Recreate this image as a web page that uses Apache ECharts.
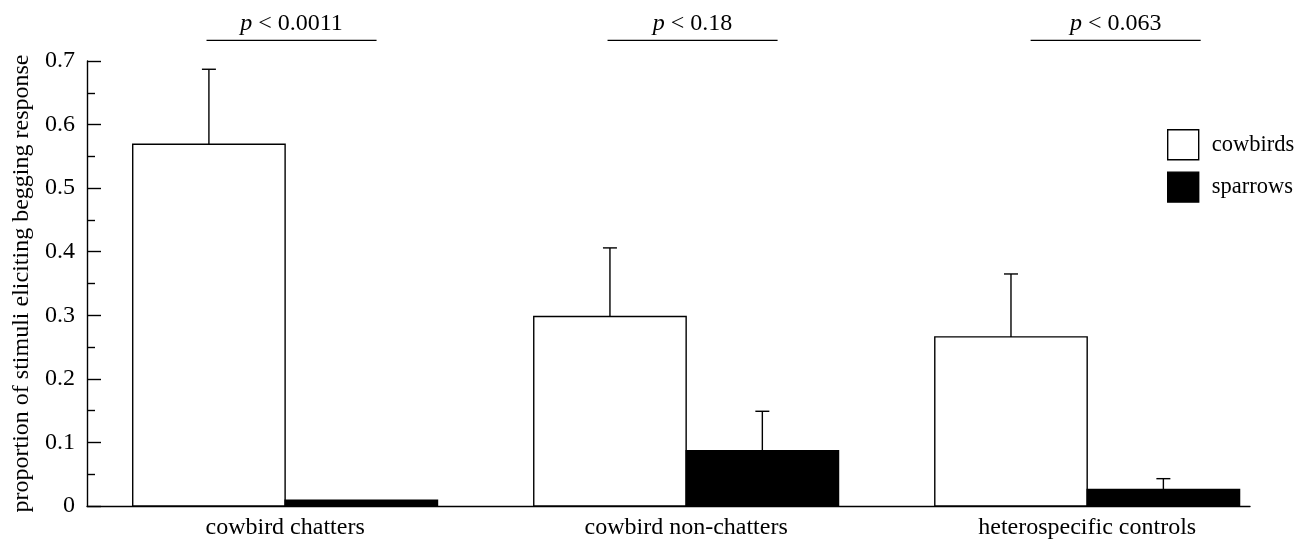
<!DOCTYPE html>
<html>
<head>
<meta charset="utf-8">
<script src="https://cdn.jsdelivr.net/npm/echarts@6/dist/echarts.min.js"></script>
<style>
html,body{margin:0;padding:0;background:#fff;}
#chart{width:1308px;height:540px;}
</style>
</head>
<body>
<div id="chart"></div>
<script>
// ---- data ----
const categories = ['cowbird chatters', 'cowbird non-chatters', 'heterospecific controls'];
const cowbirds = [0.569, 0.298, 0.266];
const cowbirdsErrTop = [0.687, 0.406, 0.365];
const sparrows = [0.009, 0.087, 0.026];
const sparrowsErrTop = [null, 0.149, 0.043];
const pLabels = ['0.0011', '0.18', '0.063'];
const pCenters = [0.51, 1.51, 2.565];
const yTicks = [0, 0.1, 0.2, 0.3, 0.4, 0.5, 0.6, 0.7];

const FONT = '"Liberation Serif", "DejaVu Serif", serif';
const HALF = 0.38;       // bar width in category units
const SIG_Y = 0.7325;    // level of significance bars
const SIG_HALF = 0.212;  // half length of significance bars

function barRender(side, tops) {
  return function (params, api) {
    const i = api.value(0);
    const v = api.value(1);
    const c = i + 0.494;
    const x0 = side < 0 ? c - HALF : c;
    const x1 = side < 0 ? c : c + HALF;
    const pTL = api.coord([x0, v]);
    const pBR = api.coord([x1, 0]);
    const style = api.style();
    const children = [{
      type: 'rect',
      shape: { x: pTL[0], y: pTL[1], width: pBR[0] - pTL[0], height: pBR[1] - pTL[1] },
      style: { fill: style.fill, stroke: '#000', lineWidth: 1.4 }
    }];
    const e = tops[i];
    if (e != null) {
      const xm = (x0 + x1) / 2;
      const a = api.coord([xm, v]);
      const b = api.coord([xm, e]);
      children.push({ type: 'line', shape: { x1: a[0], y1: a[1], x2: b[0], y2: b[1] }, style: { stroke: '#000', lineWidth: 1.4 } });
      children.push({ type: 'line', shape: { x1: b[0] - 7, y1: b[1], x2: b[0] + 7, y2: b[1] }, style: { stroke: '#000', lineWidth: 1.4 } });
    }
    return { type: 'group', children: children };
  };
}

const chart = echarts.init(document.getElementById('chart'), null, { renderer: 'canvas' });
chart.setOption({
  animation: false,
  backgroundColor: '#fff',
  textStyle: { fontFamily: FONT },
  grid: { left: 87, right: 58, top: 61, bottom: 34, containLabel: false, outerBoundsMode: 'none' },
  legend: {
    orient: 'vertical',
    left: 1167, top: 129, padding: 0,
    itemWidth: 31, itemHeight: 30, itemGap: 11,
    textStyle: { fontFamily: FONT, fontSize: 22.5, color: '#000', padding: [0, 0, 0, 8] },
    data: [
      { name: 'cowbirds', icon: 'rect', itemStyle: { color: '#fff', borderColor: '#000', borderWidth: 1.4 } },
      { name: 'sparrows', icon: 'rect', itemStyle: { color: '#000', borderColor: '#000', borderWidth: 1.4 } }
    ]
  },
  xAxis: {
    type: 'value', min: 0, max: 2.9,
    splitLine: { show: false },
    axisTick: { show: false },
    axisLine: { show: true, lineStyle: { color: '#000', width: 1.4 } },
    axisLabel: {
      customValues: [0.494, 1.494, 2.494],
      formatter: function (v) { return categories[Math.round(v - 0.494)] || ''; },
      fontFamily: FONT, fontSize: 24, color: '#000', margin: 10
    }
  },
  yAxis: {
    type: 'value', min: 0, max: 0.7, interval: 0.1,
    name: 'proportion of stimuli eliciting begging response',
    nameLocation: 'middle', nameGap: 50,
    nameTextStyle: { fontFamily: FONT, fontSize: 24, color: '#000' },
    splitLine: { show: false },
    axisLine: { show: true, lineStyle: { color: '#000', width: 1.4 } },
    axisTick: { show: true, inside: true, length: 14, lineStyle: { color: '#000', width: 1.4 } },
    minorTick: { show: true, splitNumber: 2, length: 8, lineStyle: { color: '#000', width: 1.4 } },
    axisLabel: {
      fontFamily: FONT, fontSize: 24, color: '#000', margin: 12,
      formatter: function (v) { return String(+v.toFixed(1)); }
    }
  },
  series: [
    {
      name: 'cowbirds', type: 'custom',
      itemStyle: { color: '#fff', borderColor: '#000' },
      renderItem: barRender(-1, cowbirdsErrTop),
      data: cowbirds.map((v, i) => [i, v]),
      encode: { x: 0, y: 1 }
    },
    {
      name: 'sparrows', type: 'custom',
      itemStyle: { color: '#000', borderColor: '#000' },
      renderItem: barRender(1, sparrowsErrTop),
      data: sparrows.map((v, i) => [i, v]),
      encode: { x: 0, y: 1 }
    },
    {
      name: 'sig', type: 'custom', silent: true, clip: false,
      renderItem: function (params, api) {
        const i = params.dataIndex;
        const c = pCenters[i];
        const a = api.coord([c - SIG_HALF, SIG_Y]);
        const b = api.coord([c + SIG_HALF, SIG_Y]);
        const m = api.coord([c, SIG_Y]);
        return {
          type: 'group',
          children: [
            { type: 'line', shape: { x1: a[0], y1: a[1], x2: b[0], y2: b[1] }, style: { stroke: '#000', lineWidth: 1.4 } },
            {
              type: 'text', x: m[0], y: m[1] - 17,
              style: {
                text: '{i|p} < ' + pLabels[i],
                rich: { i: { fontStyle: 'italic', fontFamily: FONT, fontSize: 24, fill: '#000' } },
                fontFamily: FONT, fontSize: 24, fill: '#000',
                align: 'center', verticalAlign: 'middle'
              }
            }
          ]
        };
      },
      data: pCenters.map((c, i) => [c, SIG_Y])
    }
  ]
});
</script>
</body>
</html>
